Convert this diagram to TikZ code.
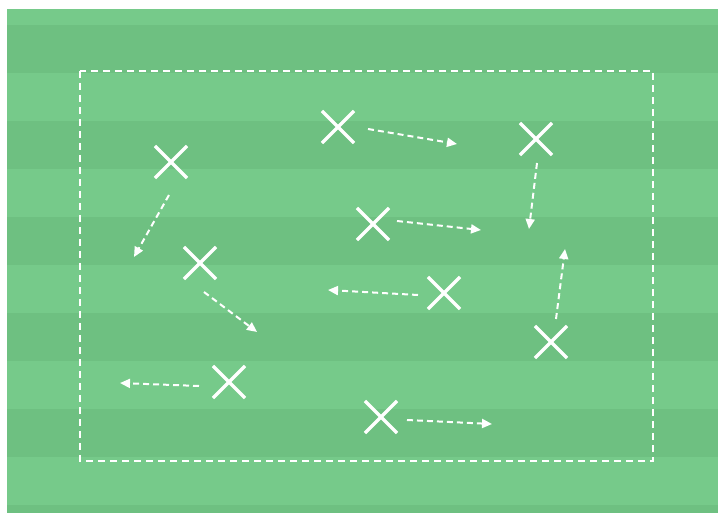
\documentclass[tikz,border=0pt]{standalone}
\usetikzlibrary{arrows.meta,shapes.misc}
\definecolor{fieldlight}{RGB}{118,202,138}
\definecolor{fielddark}{RGB}{110,192,129}
\tikzset{
  player/.style={cross out, draw=white, line width=3.2pt, minimum size=29pt, inner sep=0pt},
  run/.style={white, line width=2pt, dash pattern=on 6pt off 4pt, -{Triangle[length=10pt,width=9pt]}},
  zone/.style={white, line width=2.2pt, dash pattern=on 7pt off 5pt},
}
\begin{document}
\begin{tikzpicture}[x=1pt,y=-1pt]
\useasboundingbox (0,0) rectangle (718,513);
\fill[white] (0,0) rectangle (718,513);
\fill[fieldlight] (7,9) rectangle (718,513);
\foreach \y in {25,121,217,313,409,505}{
  \fill[fielddark] (7,\y) rectangle (718,{min(\y+48,513)});
}
\draw[zone] (80,71) rectangle (653,461);
% players
\node[player] (p1) at (338,127) {};
\node[player] (p2) at (536,139) {};
\node[player] (p3) at (171,162) {};
\node[player] (p4) at (373,224) {};
\node[player] (p5) at (200,263) {};
\node[player] (p6) at (444,293) {};
\node[player] (p7) at (551,342) {};
\node[player] (p8) at (229,382) {};
\node[player] (p9) at (381,417) {};
% run coordinates
\coordinate (s1) at (368,129); \coordinate (e1) at (457,144);
\coordinate (s2) at (537,163); \coordinate (e2) at (529,229);
\coordinate (s3) at (169,195); \coordinate (e3) at (134,257);
\coordinate (s4) at (397,221); \coordinate (e4) at (481,230);
\coordinate (s5) at (204,292); \coordinate (e5) at (257,332);
\coordinate (s6) at (418,295); \coordinate (e6) at (328,290);
\coordinate (s7) at (556,319); \coordinate (e7) at (565,249);
\coordinate (s8) at (199,386); \coordinate (e8) at (120,383);
\coordinate (s9) at (407,420); \coordinate (e9) at (492,424);
\foreach \i in {1,...,9}{\draw[run] (s\i) -- (e\i);}
\end{tikzpicture}
\end{document}
